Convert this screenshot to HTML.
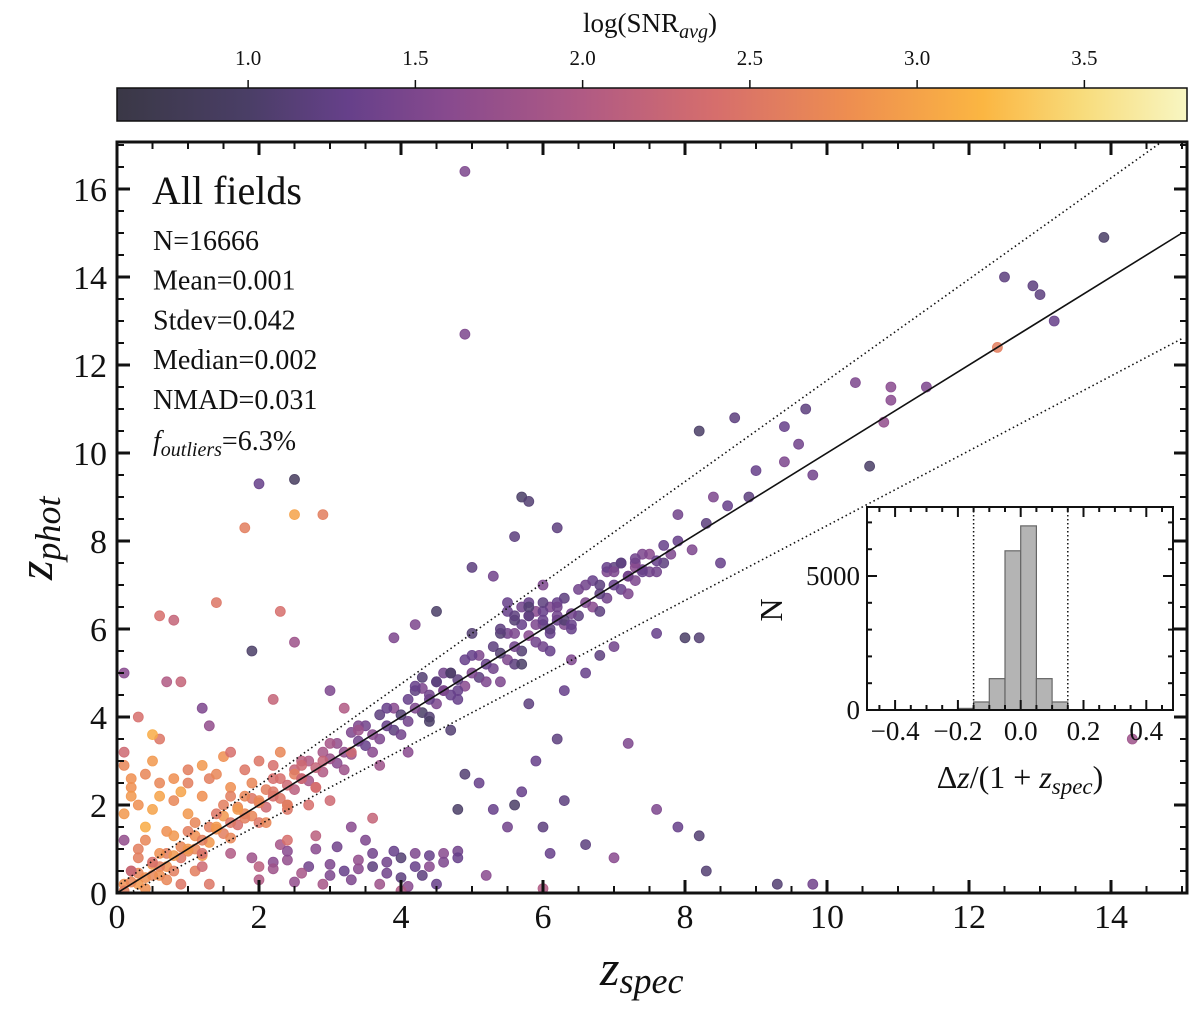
<!DOCTYPE html>
<html><head><meta charset="utf-8"><style>
body{margin:0;background:#fff;}
svg text{font-family:"Liberation Serif",serif;fill:#111;}
</style></head><body>
<svg id="chart" width="1200" height="1016" viewBox="0 0 1200 1016" xmlns="http://www.w3.org/2000/svg">
<defs>
<linearGradient id="cmap" x1="0" x2="1" y1="0" y2="0"></linearGradient>
<clipPath id="plotclip"><rect x="117" y="142" width="1070" height="751"/></clipPath>
</defs>
<g id="cbar"></g>
<g id="main"></g>
<g id="inset"></g>
</svg>
<script>
// ---- data ----
const zspec = [
0.1,0.3,0.5,0.7,0.9,1.1,1.3,1.5,1.7,1.9,2.1,2.3,2.5,2.7,2.9,3.1,3.3,3.5,3.7,3.9,4.1,4.3,4.5,4.7,4.9,5.1,5.3,5.5,5.7,5.9,6.1,6.3,6.5,6.7,6.9,7.1,7.3,7.5,7.7,
0.1,0.3,0.5,0.7,0.9,1.1,1.3,1.5,1.7,1.9,2.1,2.3,2.5,2.7,2.9,3.1,3.3,3.5,3.7,3.9,4.1,4.3,4.5,4.7,4.9,5.1,5.3,5.5,5.7,5.9,6.1,6.3,6.5,6.7,6.9,7.1,7.3,7.5,7.7,
0.2,0.4,0.6,0.8,1.0,1.2,1.4,1.6,1.8,2.0,2.2,2.4,2.6,2.8,3.0,3.2,3.4,3.6,3.8,4.0,4.2,4.4,4.6,4.8,5.0,5.2,5.4,5.6,5.8,6.0,6.2,6.4,6.6,6.8,7.0,7.2,7.4,7.6,7.8,
0.2,0.6,1.0,1.4,1.8,2.2,2.6,3.0,3.4,3.8,4.2,4.6,5.0,5.4,5.8,6.2,6.6,7.0,7.4,
0.4,0.8,1.2,1.6,2.0,2.4,2.8,3.2,3.6,4.0,4.4,4.8,5.2,5.6,6.0,6.4,6.8,7.2,7.6,
5.5,5.6,5.7,5.8,5.9,6.0,6.1,6.2,6.3,5.6,5.8,6.0,6.2,6.4,
6.9,7.0,7.1,7.2,7.3,7.4,
4.2,4.3,4.4,4.5,4.6,4.7,4.8,
0.1,0.3,0.5,0.8,1.0,1.2,1.5,1.7,0.2,0.6,0.9,1.3,1.6,1.9,2.2,2.5,2.8,0.4,0.7,1.1,1.4,1.8,2.1,2.4,2.7,3.0,0.1,0.5,1.0,1.5,2.0,2.3,2.6,2.9,
0.2,0.4,0.6,0.8,1.0,1.2,1.4,1.6,1.8,2.0,2.2,2.4,2.6,
0.3,0.6,0.9,1.2,0.4,0.8,1.1,
1.6,1.9,2.2,2.4,2.7,3.0,3.2,3.4,3.6,3.8,4.0,4.2,4.4,4.6,4.8,2.0,2.5,2.9,3.3,3.7,4.1,4.5,2.3,2.8,3.1,3.5,3.9,4.3,
2.2,2.6,3.0,3.4,3.8,4.2,4.6,2.0,2.4,3.6,4.0,4.4,4.8,
4.9,4.9,13.9,12.5,12.9,13.0,13.2,12.4,11.4,10.9,10.4,10.9,10.8,10.6,8.2,8.7,9.4,9.7,9.6,9.0,9.8,8.4,8.6,8.3,7.9,7.9,8.1,8.5,8.9,9.4,
5.7,5.8,5.6,6.2,7.3,6.8,5.3,5.0,6.0,
2.0,2.5,1.8,2.5,2.9,1.4,2.3,0.6,0.8,0.1,1.9,2.5,0.7,0.9,1.2,1.3,0.6,0.3,0.1,0.5,3.0,3.2,3.4,
4.2,4.5,3.9,5.0,5.5,5.6,5.8,6.0,5.4,5.7,6.1,6.4,6.6,6.8,7.0,8.0,8.2,7.6,6.3,5.8,5.4,6.2,5.9,5.7,5.6,4.7,4.4,4.1,3.7,4.9,5.1,4.8,5.3,5.5,6.0,6.3,7.2,7.6,7.9,8.2,8.3,9.3,9.8,6.1,6.6,7.0,6.0,5.2,4.0,14.3,3.3,2.2,1.6,1.0,0.3,0.5,0.2,0.7,1.2,1.3,0.1,0.2,3.3,3.6,2.8,2.4
];
const zphot = [
0.2,0.45,0.65,0.9,1.05,1.3,1.5,1.75,1.95,2.15,2.35,2.6,2.8,3.0,3.2,3.4,3.65,3.8,4.05,4.2,4.4,4.65,4.8,5.0,5.3,5.4,5.6,5.9,6.1,6.4,6.5,6.7,6.9,7.1,7.3,7.5,7.5,7.7,7.9,
0.05,0.2,0.4,0.6,0.8,1.0,1.15,1.35,1.55,1.75,1.95,2.15,2.35,2.55,2.75,2.95,3.15,3.35,3.5,3.7,3.9,4.1,4.3,4.5,4.7,4.9,5.1,5.3,5.5,5.7,5.9,6.1,6.3,6.5,6.7,6.9,7.1,7.3,7.5,
0.25,0.35,0.6,0.85,0.95,1.2,1.45,1.6,1.8,2.05,2.2,2.45,2.6,2.85,3.05,3.2,3.45,3.6,3.8,4.05,4.2,4.4,4.6,4.85,5.0,5.2,5.45,5.6,5.85,6.1,6.2,6.35,6.6,6.8,7.0,7.2,7.35,7.55,7.7,
0.5,0.9,1.4,1.8,2.2,2.6,3.0,3.4,3.8,4.2,4.6,5.0,5.4,5.9,6.3,6.6,7.0,7.4,7.7,
0.1,0.5,0.85,1.25,1.6,2.0,2.4,2.8,3.2,3.6,4.0,4.4,4.8,5.2,5.6,6.0,6.4,6.8,7.3,
6.4,6.2,6.5,6.3,6.1,6.4,6.0,6.5,6.2,5.9,6.6,6.6,6.3,6.1,
7.4,7.3,7.5,7.2,7.4,7.3,
4.7,4.9,4.5,4.8,4.6,5.0,4.6,
1.8,2.0,1.9,2.1,1.8,2.2,2.0,1.9,2.4,2.5,2.3,2.6,2.4,2.5,2.3,2.7,2.4,1.5,1.4,1.6,1.5,1.7,1.6,1.9,2.0,2.1,2.9,3.0,2.8,3.1,3.0,3.2,2.9,3.0,
2.2,2.7,2.2,2.6,2.5,2.9,2.7,2.2,2.8,2.1,2.9,2.0,2.6,
0.8,0.4,0.2,0.9,1.2,1.3,0.5,
0.9,0.8,0.7,0.75,0.6,0.65,0.5,0.55,0.6,0.7,0.8,0.9,0.85,0.9,0.95,0.3,0.25,0.2,0.3,0.2,0.15,0.2,1.1,1.0,1.05,1.2,0.95,0.4,
0.55,0.45,0.4,0.75,0.45,0.6,0.7,0.6,0.95,0.9,0.35,0.6,0.8,
16.4,12.7,14.9,14.0,13.8,13.6,13.0,12.4,11.5,11.5,11.6,11.2,10.7,9.7,10.5,10.8,10.6,11.0,10.2,9.6,9.5,9.0,8.8,8.4,8.6,8.0,7.8,7.5,9.0,9.8,
9.0,8.9,8.1,8.3,7.6,7.0,7.2,7.4,7.0,
9.3,9.4,8.3,8.6,8.6,6.6,6.4,6.3,6.2,5.0,5.5,5.7,4.8,4.8,4.2,3.8,3.5,4.0,3.2,3.6,4.6,4.2,3.7,
6.1,6.4,5.8,5.9,6.6,6.3,6.5,6.2,6.0,5.2,5.5,5.3,5.0,5.4,5.6,5.8,5.8,5.9,4.6,4.3,4.8,3.5,3.0,2.3,2.0,3.7,3.9,3.2,2.9,2.7,2.5,1.9,1.9,1.5,1.5,2.1,3.4,1.9,1.5,1.3,0.5,0.2,0.2,0.9,1.1,0.8,0.1,0.4,0.05,3.5,3.2,4.4,3.2,1.0,1.0,0.7,0.5,0.3,0.6,0.2,1.2,2.6,1.5,1.7,1.3,1.2
];
const snr = [
2.8,2.7,2.9,2.6,2.7,2.8,2.6,2.9,2.7,2.5,2.6,2.4,2.2,2.0,1.9,1.7,1.5,1.4,1.2,1.6,1.3,1.5,1.1,1.4,1.3,1.5,1.2,1.4,1.3,1.6,1.5,1.2,1.4,1.3,1.5,1.2,1.4,1.6,1.3,
2.6,2.9,2.7,2.8,2.5,2.7,2.9,2.6,2.4,2.7,2.3,2.5,2.1,1.9,2.0,1.6,1.8,1.3,1.5,1.2,1.4,1.0,1.5,1.3,1.6,1.2,1.4,1.5,1.1,1.4,1.3,1.5,1.2,1.6,1.4,1.3,1.5,1.4,1.2,
2.7,2.8,2.6,2.9,2.7,2.6,2.8,2.5,2.7,2.6,2.4,2.3,2.0,2.2,1.8,1.7,1.4,1.6,1.3,1.1,1.5,1.3,1.4,1.2,1.5,1.3,1.1,1.4,1.6,1.2,1.3,1.4,1.5,1.2,1.3,1.6,1.4,1.3,1.5,
2.7,2.8,2.6,2.5,2.7,2.4,2.1,1.9,1.5,1.3,1.2,1.4,1.3,1.1,1.5,1.3,1.4,1.2,1.5,
2.8,2.6,2.9,2.7,2.5,2.3,2.2,1.8,1.6,1.4,1.1,1.3,1.5,1.2,1.4,1.3,1.2,1.5,1.4,
1.3,1.1,1.4,1.2,1.5,1.3,1.2,1.4,1.1,1.5,1.3,1.2,1.4,1.3,
1.3,1.5,1.2,1.4,1.6,1.3,
1.3,1.1,1.4,1.2,1.5,1.0,1.3,
2.9,2.8,3.0,2.7,2.9,2.8,2.6,2.9,2.8,2.7,3.0,2.6,2.8,2.7,2.5,2.6,2.4,3.1,2.8,2.7,2.9,2.6,2.7,2.5,2.4,2.3,2.7,2.9,2.6,2.8,2.5,2.7,2.3,2.2,
2.9,2.7,3.0,2.8,2.6,2.9,2.7,2.6,2.5,2.7,2.4,2.6,2.3,
2.6,2.8,2.5,2.4,2.7,2.9,2.6,
2.0,1.8,1.6,1.7,1.4,1.5,1.3,1.6,1.2,1.4,1.1,1.5,1.3,1.6,1.4,2.0,1.7,1.9,1.5,1.8,1.6,1.3,1.9,1.6,1.4,1.5,1.3,1.2,
1.8,1.9,1.5,1.7,1.4,1.3,1.5,2.1,1.6,1.4,1.2,1.6,1.3,
1.5,1.5,1.0,1.2,1.2,1.2,1.3,2.6,1.5,1.6,1.5,1.6,1.7,1.0,1.0,1.2,1.3,1.2,1.4,1.3,1.4,1.5,1.3,1.2,1.4,1.3,1.5,1.3,1.2,1.5,
1.0,1.1,1.2,1.2,1.4,1.2,1.4,1.2,1.5,
1.3,0.9,2.6,3.0,2.6,2.5,2.4,2.4,2.2,1.6,1.0,1.8,2.0,2.2,1.5,1.7,2.5,2.4,2.3,3.1,1.5,2.0,1.8,
1.5,1.0,1.5,1.1,1.3,1.2,1.1,1.3,1.2,1.0,1.3,1.5,1.3,1.2,1.4,1.0,1.1,1.3,1.3,1.2,1.5,1.2,1.3,1.3,1.0,1.1,1.0,1.6,1.8,1.1,1.3,1.0,1.3,1.4,1.2,1.2,1.5,1.5,1.3,1.1,1.1,1.1,1.4,1.3,1.2,1.6,2.0,1.6,2.0,1.8,2.3,2.2,2.4,2.9,2.6,2.4,2.2,2.7,2.3,2.5,1.7,2.8,1.6,2.2,2.1,2.4
];
const histBinsLeft = [-0.25,-0.2,-0.15,-0.1,-0.05,0.0,0.05,0.1];
const histCounts = [10,60,300,1170,5940,6870,1170,300];
const cbTicks = [1.0,1.5,2.0,2.5,3.0,3.5];
const xTicks = [0,2,4,6,8,10,12,14];
const yTicks = [0,2,4,6,8,10,12,14,16];
const insetXTicks = [-0.4,-0.2,0.0,0.2,0.4];
const insetYTicks = [0,5000];

// ---- scales ----
const X = v => 117 + v*71.0;
const Y = v => 893 - v*44.0;
const CB = v => 117 + (v-0.608)*334.5;
const IX = v => 1020.7 + v*314;
const IY = v => 710 - v*0.0268;
const cmin=0.608, cmax=3.81;
const stops=[[0.608,[58,56,70]],[1.0,[74,62,102]],[1.3,[102,64,138]],[1.6,[136,74,142]],[2.0,[176,90,132]],[2.4,[214,110,108]],[2.8,[238,142,80]],[3.2,[251,182,66]],[3.5,[248,220,124]],[3.81,[248,246,194]]];
function col(v){
  v=Math.max(cmin,Math.min(cmax,v));
  for(let i=0;i<stops.length-1;i++){const a=stops[i],b=stops[i+1];
    if(v<=b[0]){const t=(v-a[0])/(b[0]-a[0]);
      return 'rgb('+a[1].map((c,k)=>Math.round(c+(b[1][k]-c)*t)).join(',')+')';}}
  return 'rgb(248,246,194)';
}
const NS='http://www.w3.org/2000/svg';
function mk(tag,attrs,parent,txt){const e=document.createElementNS(NS,tag);for(const k in attrs)e.setAttribute(k,attrs[k]);if(txt!==undefined)e.textContent=txt;parent.appendChild(e);return e;}

// ---- colorbar ----
const grad=document.getElementById('cmap');
stops.forEach(s=>mk('stop',{offset:((s[0]-cmin)/(cmax-cmin)*100)+'%','stop-color':col(s[0])},grad));
const cb=document.getElementById('cbar');
const cbr=mk('rect',{x:117,y:88,width:1070,height:33,fill:'url(#cmap)',stroke:'#111','stroke-width':1.5},cb);


cbTicks.forEach(t=>{
  mk('line',{x1:CB(t),x2:CB(t),y1:88,y2:80,stroke:'#111','stroke-width':1.5},cb);
  const tl=mk('text',{x:CB(t),y:65,'text-anchor':'middle','font-size':21},cb,t.toFixed(1));
  
  
});
const cbt=mk('text',{x:650,y:32,'text-anchor':'middle','font-size':27},cb);
cbt.innerHTML='log(SNR<tspan font-size="20" font-style="italic" dy="6">avg</tspan><tspan dy="-6">)</tspan>';



// ---- main plot ----
const m=document.getElementById('main');
const pts=mk('g',{'clip-path':'url(#plotclip)'},m);


for(let i=0;i<zspec.length;i++){
  const c=mk('circle',{cx:X(zspec[i]),cy:Y(zphot[i]),r:5,fill:col(snr[i]),'fill-opacity':0.85,stroke:col(snr[i]),'stroke-opacity':0.9,'stroke-width':0.8},pts);
  
  
}
const lines=mk('g',{'clip-path':'url(#plotclip)'},m);
const one=mk('line',{x1:X(0),y1:Y(0),x2:X(15),y2:Y(15),stroke:'#111','stroke-width':1.6},lines);


const up=mk('line',{x1:X(0),y1:Y(0.15),x2:X(15),y2:Y(15+0.15*16),stroke:'#111','stroke-width':1.6,'stroke-dasharray':'1.5,3'},lines);


const lo=mk('line',{x1:X(0),y1:Y(-0.15),x2:X(15),y2:Y(15-0.15*16),stroke:'#111','stroke-width':1.6,'stroke-dasharray':'1.5,3'},lines);


const fr=mk('rect',{x:117,y:142,width:1070,height:751,fill:'none',stroke:'#111','stroke-width':3},m);


for(let v=0;v<=15;v+=0.5){
  const maj=(v%2===0), L=maj?13:7;
  mk('line',{x1:X(v),x2:X(v),y1:893,y2:893-L,stroke:'#111','stroke-width':maj?3:2},m);
  mk('line',{x1:X(v),x2:X(v),y1:142,y2:142+L,stroke:'#111','stroke-width':maj?3:2},m);
}
for(let v=0;v<=17;v+=0.5){
  const maj=(v%2===0), L=maj?13:7;
  mk('line',{x1:117,x2:117+L,y1:Y(v),y2:Y(v),stroke:'#111','stroke-width':maj?3:2},m);
  mk('line',{x1:1187,x2:1187-L,y1:Y(v),y2:Y(v),stroke:'#111','stroke-width':maj?3:2},m);
}
xTicks.forEach(t=>{const e=mk('text',{x:X(t),y:928,'text-anchor':'middle','font-size':34},m,String(t));
  
  });
yTicks.forEach(t=>{const e=mk('text',{x:107,y:Y(t)+12,'text-anchor':'end','font-size':34},m,String(t));
  
  });
const xl=mk('text',{x:600,y:985,'font-size':50,'font-style':'italic'},m);
xl.innerHTML='z<tspan font-size="36" dy="8">spec</tspan>';


const yl=mk('text',{transform:'translate(52,580) rotate(-90)','font-size':50,'font-style':'italic'},m);
yl.innerHTML='z<tspan font-size="36" dy="8">phot</tspan>';


const ti=mk('text',{x:152,y:204,'font-size':40},m,'All fields');


const stats=['N=16666','Mean=0.001','Stdev=0.042','Median=0.002','NMAD=0.031'];
stats.forEach((s,i)=>{const e=mk('text',{x:153,y:250+i*39.7,'font-size':28},m,s);
  
  });
const fo=mk('text',{x:153,y:450,'font-size':28},m);
fo.innerHTML='<tspan font-style="italic">f</tspan><tspan font-style="italic" font-size="20" dy="6">outliers</tspan><tspan dy="-6">=6.3%</tspan>';



// ---- inset ----
const ins=document.getElementById('inset');
mk('rect',{x:867,y:507,width:306,height:203,fill:'#fff'},ins);
for(let i=0;i<histCounts.length;i++){
  const b=mk('rect',{x:IX(histBinsLeft[i]),y:IY(histCounts[i]),width:IX(histBinsLeft[i]+0.05)-IX(histBinsLeft[i]),height:710-IY(histCounts[i]),fill:'#b4b4b4',stroke:'#666','stroke-width':1.2},ins);
  
  
}
[-0.15,0.15].forEach(v=>{const e=mk('line',{x1:IX(v),x2:IX(v),y1:507,y2:710,stroke:'#111','stroke-width':1.5,'stroke-dasharray':'1.5,2.5'},ins);
  
  });
mk('rect',{x:867,y:507,width:306,height:203,fill:'none',stroke:'#111','stroke-width':2},ins);
for(let v=-0.45;v<=0.46;v+=0.05){const vv=Math.round(v*100)/100;const maj=Math.abs(Math.round(vv*10)/10-vv)<1e-6&&Math.round(vv*10)%2===0;
  const L=maj?10:5;
  mk('line',{x1:IX(vv),x2:IX(vv),y1:710,y2:710-L,stroke:'#111','stroke-width':2},ins);
  mk('line',{x1:IX(vv),x2:IX(vv),y1:507,y2:507+L,stroke:'#111','stroke-width':2},ins);}
for(let v=0;v<=7000;v+=1000){const maj=v%5000===0,L=maj?10:5;
  mk('line',{x1:867,x2:867+L,y1:IY(v),y2:IY(v),stroke:'#111','stroke-width':2},ins);
  mk('line',{x1:1173,x2:1173-L,y1:IY(v),y2:IY(v),stroke:'#111','stroke-width':2},ins);}
insetXTicks.forEach(t=>{const e=mk('text',{x:IX(t),y:740,'text-anchor':'middle','font-size':27},ins,(t<0?'\u2212':'')+Math.abs(t).toFixed(1));
  
  });
insetYTicks.forEach(t=>{const e=mk('text',{x:860,y:IY(t)+9,'text-anchor':'end','font-size':27},ins,String(t));
  
  });
const iyl=mk('text',{transform:'translate(782,610) rotate(-90)','font-size':32,'text-anchor':'middle'},ins,'N');


const ixl=mk('text',{x:1020,y:788,'font-size':32,'text-anchor':'middle'},ins);
ixl.innerHTML='Δ<tspan font-style="italic">z</tspan>/(1 + <tspan font-style="italic">z</tspan><tspan font-style="italic" font-size="23" dy="6">spec</tspan><tspan dy="-6">)</tspan>';


</script>
</body></html>
